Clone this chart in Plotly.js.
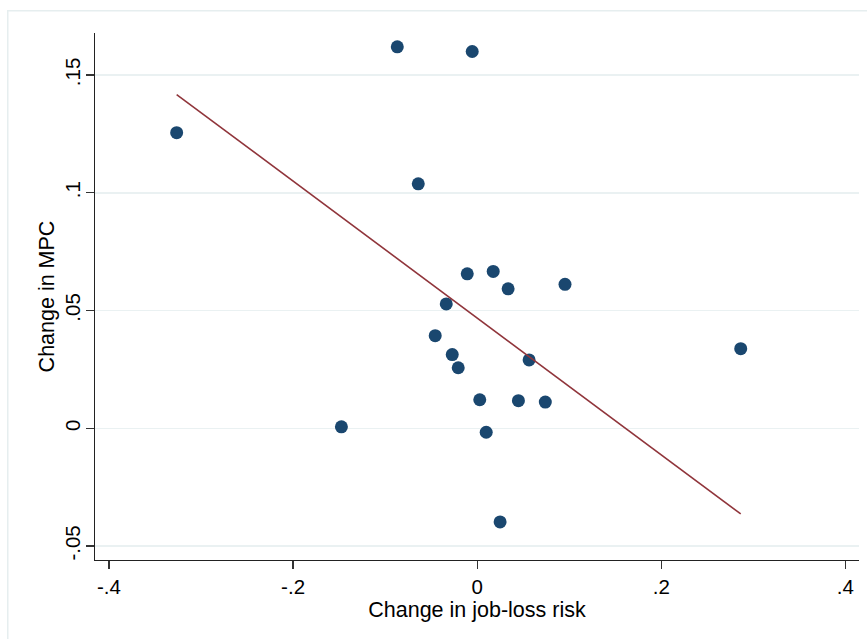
<!DOCTYPE html>
<html>
<head>
<meta charset="utf-8">
<script src="https://cdn.plot.ly/plotly-3.0.1.min.js"></script>
<style>
  html, body { margin: 0; padding: 0; background: #ffffff; }
  #chart { width: 867px; height: 639px; }
</style>
</head>
<body>
<div id="chart"></div>
<script>
// Change in job-loss risk (x) vs change in MPC (y), one point per group
const jobLossRisk = [-0.3265, -0.0868, -0.0054, -0.0640, -0.0108, 0.0174, 0.0336, 0.0954,
                     -0.0336, -0.0456, -0.0271, -0.0206, 0.0564, 0.2863, -0.1475, 0.0028,
                     0.0098, 0.0448, 0.0740, 0.0249];
const mpcChange   = [0.1255, 0.1620, 0.1600, 0.1038, 0.0656, 0.0666, 0.0592, 0.0611,
                     0.0528, 0.0393, 0.0313, 0.0257, 0.0290, 0.0338, 0.0006, 0.0121,
                     -0.0017, 0.0117, 0.0111, -0.0398];

// Linear fit line endpoints
const fitX = [-0.3265, 0.2863];
const fitY = [0.1417, -0.0364];

// Axis ticks
const xTickVals = [-0.4, -0.2, 0, 0.2, 0.4];
const xTickText = ["-.4", "-.2", "0", ".2", ".4"];
const yTickVals = [-0.05, 0, 0.05, 0.1, 0.15];
const yTickText = ["-.05", "0", ".05", ".1", ".15"];

const FONT = "Liberation Sans, Arial, sans-serif";

const traces = [
  {
    type: "scatter",
    mode: "markers",
    x: jobLossRisk,
    y: mpcChange,
    marker: { color: "#1a476f", size: 13, line: { width: 0 } },
    hoverinfo: "x+y",
    showlegend: false
  },
  {
    type: "scatter",
    mode: "lines",
    x: fitX,
    y: fitY,
    line: { color: "#90353b", width: 1.6 },
    hoverinfo: "skip",
    showlegend: false
  }
];

const layout = {
  width: 867,
  height: 639,
  margin: { l: 95, r: 8, t: 33, b: 79, pad: 0 },
  paper_bgcolor: "#ffffff",
  plot_bgcolor: "#ffffff",
  font: { family: FONT, color: "#000000", size: 20 },
  showlegend: false,
  xaxis: {
    range: [-0.4152, 0.4148],
    tickvals: xTickVals,
    ticktext: xTickText,
    tickfont: { family: FONT, size: 20.5, color: "#000000" },
    ticks: "outside",
    ticklen: 8,
    tickwidth: 1.2,
    tickcolor: "#333333",
    showline: true,
    linecolor: "#222222",
    linewidth: 1.2,
    showgrid: false,
    zeroline: false,
    title: { text: "Change in job-loss risk", font: { family: FONT, size: 21.5, color: "#000000" }, standoff: 2 }
  },
  yaxis: {
    range: [-0.05595, 0.16785],
    tickvals: yTickVals,
    ticktext: yTickText,
    tickangle: -90,
    ticklabelstandoff: -2,
    tickfont: { family: FONT, size: 20.5, color: "#000000" },
    ticks: "outside",
    ticklen: 8,
    tickwidth: 1.2,
    tickcolor: "#333333",
    showline: true,
    linecolor: "#222222",
    linewidth: 1.2,
    showgrid: true,
    gridcolor: "#eaf1f2",
    gridwidth: 1.5,
    zeroline: false,
    title: { text: "Change in MPC", font: { family: FONT, size: 21.5, color: "#000000" }, standoff: 0 }
  },
  shapes: [
    {
      // outer graph-region frame
      type: "rect",
      xref: "paper", yref: "paper",
      x0: -0.1142, x1: 1.2, y0: -0.3, y1: 1.0423,
      line: { color: "#e6eeef", width: 1.5 },
      fillcolor: "rgba(0,0,0,0)",
      layer: "below"
    }
  ]
};

Plotly.newPlot("chart", traces, layout, { staticPlot: true, displayModeBar: false });
</script>
</body>
</html>
